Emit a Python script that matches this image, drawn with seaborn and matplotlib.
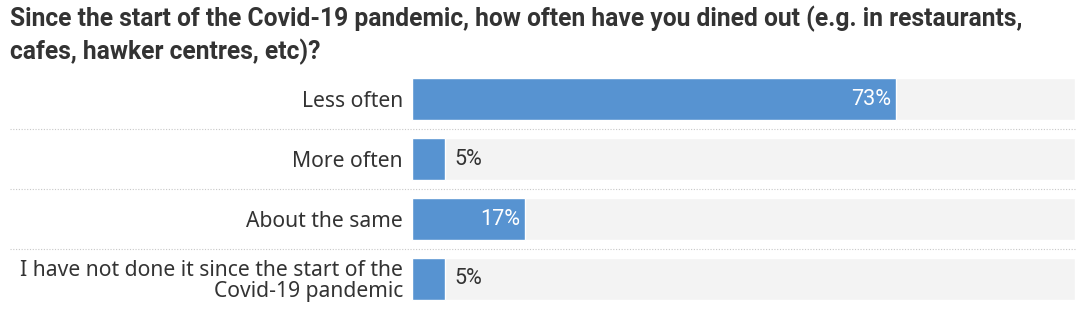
import matplotlib
matplotlib.use("Agg")
import matplotlib.pyplot as plt
import seaborn as sns
import pandas as pd

categories = ["Less often", "More often", "About the same",
              "I have not done it since the start of the\nCovid-19 pandemic"]
values = [73, 5, 17, 5]
value_labels = ["73%", "5%", "17%", "5%"]
title = ("Since the start of the Covid-19 pandemic, how often have you dined out (e.g. in restaurants,\n"
         "cafes, hawker centres, etc)?")

BLUE = "#5793D1"
BG = "#F3F3F3"
DARK = "#333333"

sns.set_theme(style="white")
plt.rcParams["font.family"] = ["Roboto", "DejaVu Sans"]

df = pd.DataFrame({"cat": categories, "val": values, "full": [100] * len(values)})

fig = plt.figure(figsize=(10.8, 3.36), dpi=100)
ax = fig.add_axes([0.3815, 0.0804, 0.6139, 0.714])

sns.barplot(data=df, y="cat", x="full", color=BG, width=0.7, saturation=1, ax=ax, orient="h")
sns.barplot(data=df, y="cat", x="val", color=BLUE, width=0.7, saturation=1, ax=ax, orient="h")

ax.set_xlim(0, 100)
ax.set_ylim(3.5, -0.5)
ax.set_xlabel("")
ax.set_ylabel("")
ax.set_xticks([])
for s in ax.spines.values():
    s.set_visible(False)
ax.tick_params(axis="y", length=0, pad=6.5, labelcolor=DARK)
for t in ax.get_yticklabels():
    t.set_horizontalalignment("right")
    t.set_linespacing(1.0)
    t.set_fontfamily(["Noto Sans", "DejaVu Sans"])
    t.set_fontsize(15.2)

for i, (v, lab) in enumerate(zip(values, value_labels)):
    if v >= 10:
        ax.text(v - 0.7, i, lab, ha="right", va="center", color="white", fontsize=15.5)
    else:
        ax.text(v + 1.4, i, lab, ha="left", va="center", color=DARK, fontsize=15.5)

for yy in [0.5, 1.5, 2.5]:
    ax.axhline(yy, xmin=-0.606, xmax=1.0, color="#c8c8c8", lw=0.8,
               ls=(0, (1, 1.5)), clip_on=False)

fig.text(10 / 1080, 1 - 6 / 336, title, ha="left", va="top", fontsize=17.75,
         fontweight="bold", color=DARK, linespacing=1.3)

fig.savefig("out.png", dpi=100, facecolor="white")
